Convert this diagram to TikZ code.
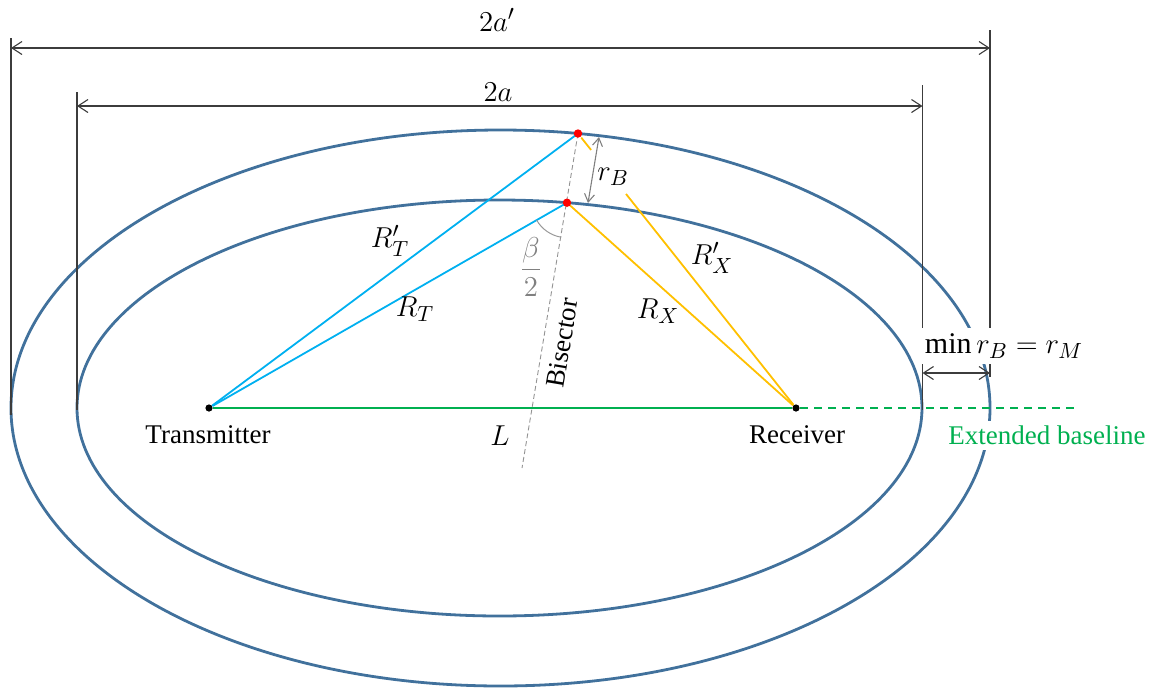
\documentclass[tikz,border=0pt]{standalone}
\usepackage{amsmath}
\usepackage{fontspec}
\setmainfont{Liberation Serif}
\usetikzlibrary{arrows.meta,calc,angles}
\definecolor{ellc}{RGB}{65,113,156}
\definecolor{cyc}{RGB}{0,176,240}
\definecolor{orc}{RGB}{255,192,0}
\definecolor{grc}{RGB}{0,176,80}
\definecolor{dimc}{RGB}{60,60,60}
\begin{document}
\begin{tikzpicture}[x=0.5pt,y=-0.5pt,
  ellline/.style={draw=ellc,line width=1.4pt},
  bluel/.style={draw=cyc,line width=0.9pt},
  orl/.style={draw=orc,line width=0.9pt},
  grl/.style={draw=grc,line width=1pt},
  dimline/.style={draw=dimc,line width=0.55pt},
  dimarrow/.style={draw=dimc,line width=0.55pt,{Straight Barb[length=5pt,width=6.5pt]}-{Straight Barb[length=5pt,width=6.5pt]}},
  grayarrow/.style={draw=gray,line width=0.55pt,{Straight Barb[length=4pt,width=5pt]}-{Straight Barb[length=4pt,width=5pt]}},
  bisline/.style={draw=gray!85,line width=0.45pt,dash pattern=on 2.5pt off 1.5pt},
  dotb/.style={circle,fill=black,inner sep=0pt,minimum size=3.6pt},
  dotr/.style={circle,fill=red,inner sep=0pt,minimum size=4.2pt},
  lab/.style={inner sep=1pt,font=\fontsize{13.5}{16}\selectfont},
  mlab/.style={inner sep=1pt,font=\fontsize{15}{18}\selectfont},
  every node/.style={font=\fontsize{13.5}{16}\selectfont}]
\useasboundingbox (0,0) rectangle (1152,687);

% ellipses
\path[ellline] (500.5,408) ellipse [x radius=244.75pt, y radius=139pt];
\path[ellline] (499.5,408) ellipse [x radius=211.25pt, y radius=104pt];

% key points
\node[dotb] (T) at (209,408) {};
\node[dotb] (R) at (796,408) {};
\coordinate (P1c) at (578,133.5);
\coordinate (P2c) at (567,202.7);
\coordinate (B2) at (522,468);
\coordinate (EB) at (1075,408);

% dimension lines
\coordinate (v1t) at (11,38);  \coordinate (v1b) at (11,415);
\coordinate (v2t) at (990,30); \coordinate (v2b) at (990,377);
\coordinate (v3t) at (77,92);  \coordinate (v3b) at (77,410);
\coordinate (v4t) at (922.5,85); \coordinate (v4b) at (922.5,410);
\path[dimline] (v1t) -- (v1b);
\path[dimline] (v2t) -- (v2b);
\path[dimline] (v3t) -- (v3b);
\path[dimline] (v4t) -- (v4b);
\coordinate (a1l) at (11,48);   \coordinate (a1r) at (990,48);
\coordinate (a2l) at (77,106);  \coordinate (a2r) at (922.5,106);
\coordinate (a3l) at (922.5,373); \coordinate (a3r) at (990,373);
\path[dimarrow] (a1l) -- (a1r);
\path[dimarrow] (a2l) -- (a2r);

% baseline
\path[grl] (T) -- (R);
\path[grl,dash pattern=on 4pt off 3pt] (R) -- (EB);

% bisector
\path[bisline] (P1c) -- (B2);

% blue lines
\path[bluel] (T) -- (P1c);
\path[bluel] (T) -- (P2c);

% orange lines
\path[orl] (R) -- (P2c);
\path[orl] (R) -- ($(R)!0.7796!(P1c)$);
\path[orl] ($(R)!0.94!(P1c)$) -- ($(R)!0.985!(P1c)$);

% angle beta/2
\pic[draw=gray!80,line width=0.5pt,angle radius=17.5pt] {angle = T--P2c--B2};

% r_B arrow
\coordinate (rb1) at (599,137);
\coordinate (rb2) at (588,203);
\path[grayarrow] (rb1) -- (rb2);

% red dots
\node[dotr] (P1) at (P1c) {};
\node[dotr] (P2) at (P2c) {};

% labels
\node[mlab] (l2ap) at (497,20) {$2a'$};
\node[mlab] (l2a) at (498,92) {$2a$};
\node[mlab] (lRTp) at (390,241) {$R'_T$};
\node[mlab] (lRT) at (415,309) {$R_T$};
\node[mlab] (lRXp) at (712,258) {$R'_X$};
\node[mlab] (lRX) at (658,311) {$R_X$};
\node[mlab] (lrB) at (613,177) {$r_B$};
\node[mlab,text=gray] (lbeta) at (531,267) {$\dfrac{\beta}{2}$};
\node[mlab] (lL) at (500,436) {$L$};
\node[lab] (lT) at (208,435) {Transmitter};
\node[lab] (lR) at (797,435) {Receiver};
\node[lab,rotate=80.5,inner sep=0pt] (lbis) at (562,343) {Bisector};
\node[fill=white,inner xsep=3pt,inner ysep=3pt,font=\fontsize{15}{18}\selectfont] (lmin) at (1004,346) {$\min r_B = r_M$};
\node[fill=white,inner xsep=4pt,inner ysep=2.5pt,text=grc] (lext) at (1047,435) {Extended baseline};
\path[dimarrow] (a3l) -- (a3r);
\end{tikzpicture}
\end{document}
